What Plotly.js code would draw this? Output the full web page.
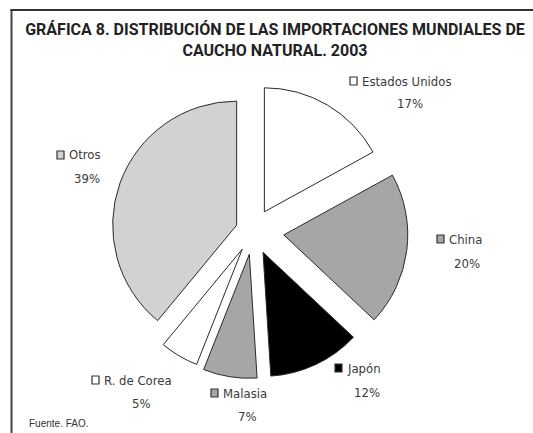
<!DOCTYPE html>
<html>
<head>
<meta charset="utf-8">
<script src="https://cdn.plot.ly/plotly-3.0.1.min.js"></script>
<style>html,body{margin:0;padding:0;background:#fff}#chart{width:533px;height:433px}</style>
</head>
<body>
<div id="chart"></div>
<script>
// Data
const categories = ["Estados Unidos", "China", "Japón", "Malasia", "R. de Corea", "Otros"];
const shares = [17, 20, 12, 7, 5, 39];
const percentLabels = ["17%", "20%", "12%", "7%", "5%", "39%"];

// Styles
const sliceColors = ["#ffffff", "#a6a6a6", "#000000", "#a6a6a6", "#ffffff", "#d2d2d2"];
const slicePull = [0.18, 0.25, 0.19, 0.19, 0.17, 0.14];
// label anchor positions in pixels (left edge of key square, vertical centre of name line)
const labelPos = [[350, 81], [437, 239], [335, 368], [211, 393], [92, 380], [57, 155]];
const pctPos = [[410, 104], [467, 263], [367, 392], [247, 416], [141, 403], [87, 178]];

const W = 533, H = 433;
const px = x => x / W;
const py = y => 1 - y / H;
const labelFont = "'DejaVu Sans Condensed', 'DejaVu Sans', sans-serif";

const annotations = [];
const shapes = [];
categories.forEach((c, i) => {
  const [lx, ly] = labelPos[i];
  shapes.push({type: 'rect', xref: 'paper', yref: 'paper',
    x0: px(lx), x1: px(lx + 7), y0: py(ly + 4), y1: py(ly - 4),
    fillcolor: sliceColors[i], line: {color: '#333', width: 1.2}});
  annotations.push({xref: 'paper', yref: 'paper', x: px(lx + 10), y: py(ly),
    xanchor: 'left', yanchor: 'middle', showarrow: false, text: c,
    font: {family: labelFont, size: 13, color: '#3a3a3a'}});
  const [qx, qy] = pctPos[i];
  annotations.push({xref: 'paper', yref: 'paper', x: px(qx), y: py(qy),
    xanchor: 'center', yanchor: 'middle', showarrow: false, text: percentLabels[i],
    font: {family: labelFont, size: 13, color: '#3a3a3a'}});
});
annotations.push({xref: 'paper', yref: 'paper', x: px(27), y: py(423),
  xanchor: 'left', yanchor: 'middle', showarrow: false,
  text: "Fuente. FAO.", font: {family: "'Liberation Sans', Arial, sans-serif", size: 10, color: '#333'}});

// frame bands (left & top edges), drawn as thin filled rectangles
shapes.push({type: 'rect', xref: 'paper', yref: 'paper', layer: 'above',
  x0: px(10.5), x1: px(12.5), y0: 0, y1: py(9), fillcolor: '#444', line: {width: 0}});
shapes.push({type: 'rect', xref: 'paper', yref: 'paper', layer: 'above',
  x0: px(10.5), x1: 1, y0: py(11), y1: py(9), fillcolor: '#333', line: {width: 0}});

const cx = 253, cy = 231, r = 124;
const half = r * (1 + Math.max(...slicePull));

const trace = {
  type: 'pie',
  labels: categories,
  values: shares,
  sort: false,
  direction: 'clockwise',
  rotation: 0,
  pull: slicePull,
  textinfo: 'none',
  hoverinfo: 'label+percent',
  marker: {colors: sliceColors, line: {color: '#2a2a2a', width: 1}},
  domain: {x: [px(cx - half), px(cx + half)], y: [py(cy + half), py(cy - half)]},
  showlegend: false
};

const layout = {
  width: W, height: H,
  margin: {l: 0, r: 0, t: 0, b: 0},
  paper_bgcolor: '#ffffff',
  showlegend: false,
  title: {
    text: "<b>GRÁFICA 8. DISTRIBUCIÓN DE LAS IMPORTACIONES MUNDIALES DE<br>CAUCHO NATURAL. 2003</b>",
    x: px(275), xanchor: 'center', xref: 'paper',
    y: py(35), yanchor: 'top', yref: 'container',
    font: {family: "Roboto, 'Liberation Sans', sans-serif", size: 16, color: '#222'}
  },
  annotations: annotations,
  shapes: shapes
};

Plotly.newPlot('chart', [trace], layout, {displayModeBar: false, staticPlot: true});
</script>
</body>
</html>
